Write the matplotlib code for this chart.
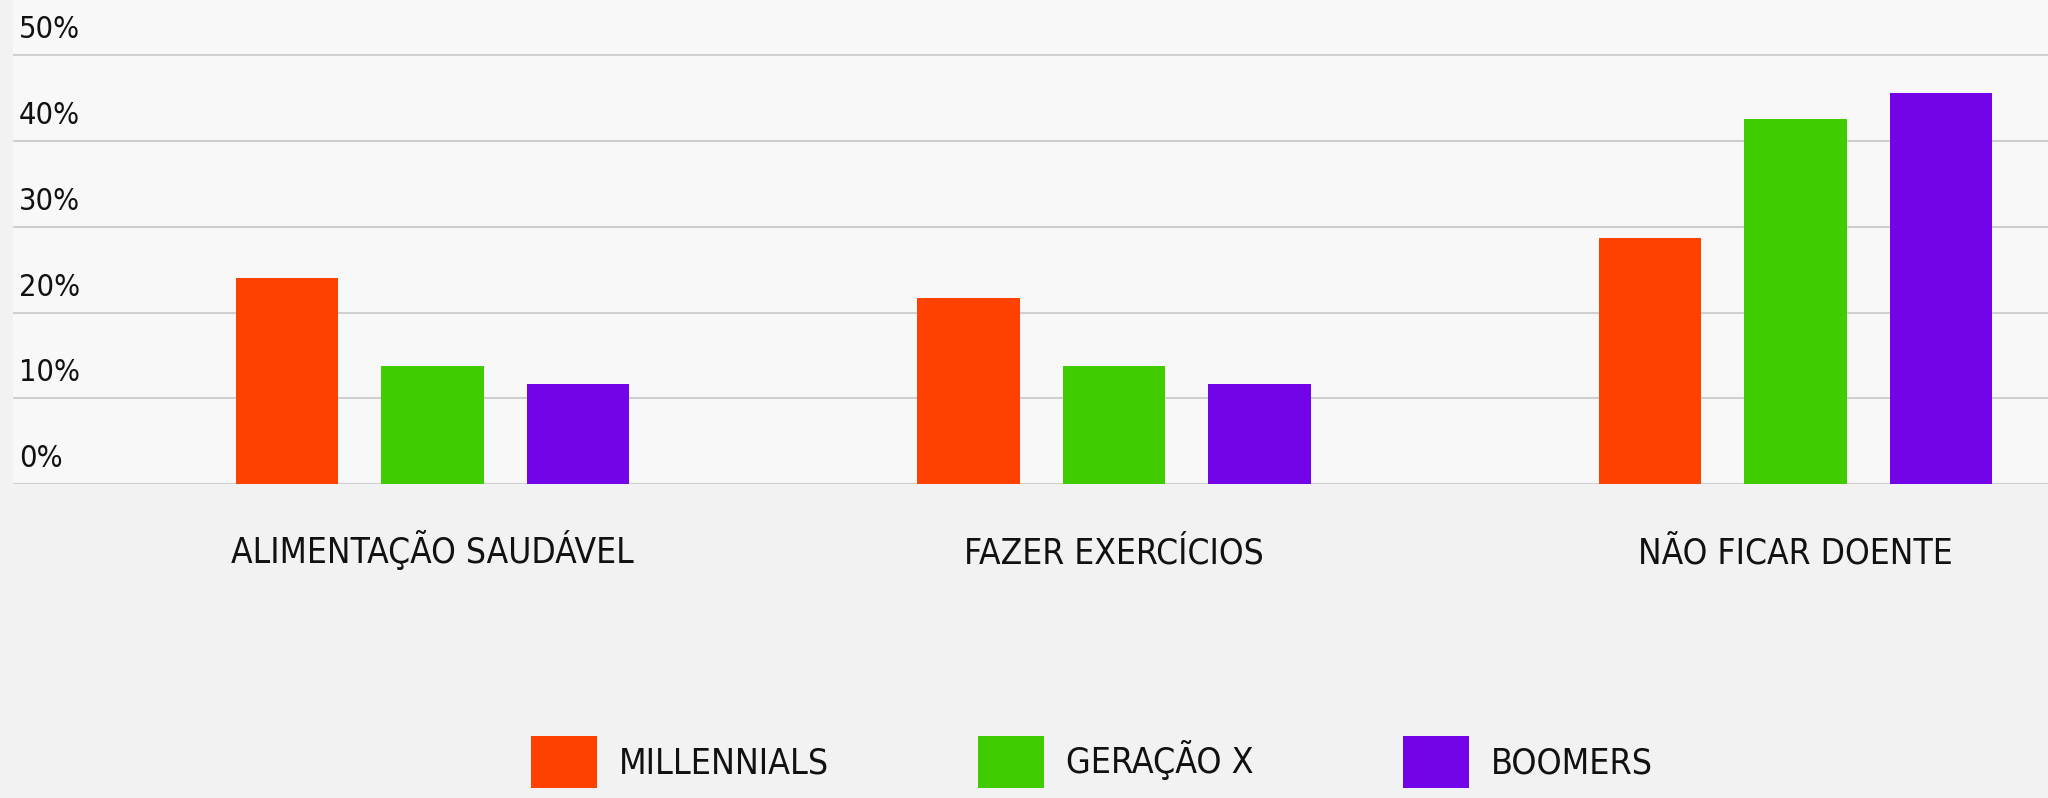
import matplotlib
matplotlib.use("Agg")
import matplotlib.pyplot as plt
from matplotlib.transforms import ScaledTranslation
from matplotlib.font_manager import FontProperties
import numpy as np

# ---- data ----
categories = ["ALIMENTAÇÃO SAUDÁVEL", "FAZER EXERCÍCIOS", "NÃO FICAR DOENTE"]
series_names = ["MILLENNIALS", "GERAÇÃO X", "BOOMERS"]
millennials = [24.0, 21.7, 28.7]
geracao_x = [13.8, 13.8, 42.6]
boomers = [11.7, 11.7, 45.6]
y_ticks = [0, 10, 20, 30, 40, 50]
y_tick_labels = ["0%", "10%", "20%", "30%", "40%", "50%"]

colors = ["#FF4100", "#41CC00", "#7304E8"]


def fp(size):
    return FontProperties(family="DejaVu Sans", stretch="condensed", size=size)


W, H, DPI = 2048, 798, 100
fig = plt.figure(figsize=(W / DPI, H / DPI), dpi=DPI, facecolor="#f2f2f2")

ax_left = 13 / W
ax_bottom = (H - 484.3) / H
px_per_pct = 8.585
ymax = 484.3 / px_per_pct
ax_height = 1 - ax_bottom
ax = fig.add_axes([ax_left, ax_bottom, 1 - ax_left, ax_height])
ax.set_facecolor("#f8f8f8")

x = np.arange(len(categories))
bw = 0.151
off = 0.2135
all_series = [millennials, geracao_x, boomers]
for i, (vals, name, c) in enumerate(zip(all_series, series_names, colors)):
    ax.bar(x + (i - 1) * off, vals, width=bw, color=c, label=name, zorder=3)

ax.set_xlim(-0.6155, 2.3705)
ax.set_ylim(0, ymax)

for s in ax.spines.values():
    s.set_visible(False)

ax.set_yticks(y_ticks)
ax.set_yticklabels(y_tick_labels, fontproperties=fp(22), color="#111111")
ax.yaxis.grid(True, color="#cfcfcf", linewidth=1.5, zorder=0)
ax.set_axisbelow(True)
ax.tick_params(axis="y", length=0, pad=0)
offset = ScaledTranslation(6 / DPI, 17 / DPI, fig.dpi_scale_trans)
for lbl in ax.get_yticklabels():
    lbl.set_horizontalalignment("left")
    lbl.set_verticalalignment("baseline")
    lbl.set_transform(lbl.get_transform() + offset)

ax.set_xticks(x)
ax.set_xticklabels(categories, fontproperties=fp(25.3), color="#111111",
                   va="baseline")
ax.tick_params(axis="x", length=0, pad=78.7 * 72 / DPI)

fs_leg = 25.7
fs_px = fs_leg * DPI / 72
handles, labels = ax.get_legend_handles_labels()
leg = fig.legend(handles, labels, loc="upper left",
                 bbox_to_anchor=(531 / W, (H - 736) / H),
                 ncol=3, frameon=False, borderpad=0, borderaxespad=0,
                 handlelength=66 / fs_px, handleheight=66 / fs_px,
                 handletextpad=22 / fs_px, columnspacing=149 / fs_px,
                 prop=fp(fs_leg))
for t in leg.get_texts():
    t.set_color("#111111")

fig.savefig("out.png", dpi=DPI, facecolor=fig.get_facecolor())
